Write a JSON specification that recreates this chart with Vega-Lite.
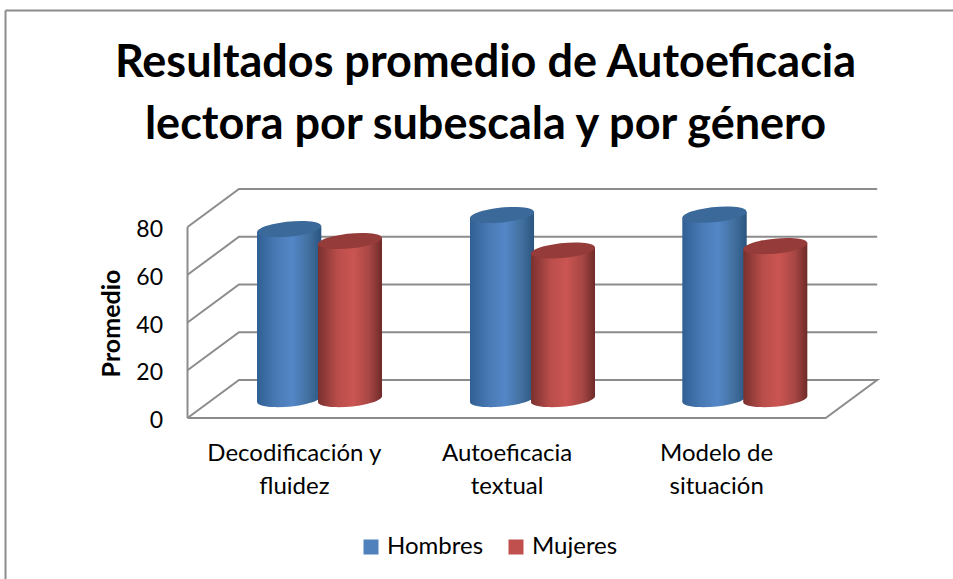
{
"$schema":"https://vega.github.io/schema/vega-lite/v6.json",
"width":953,"height":579,"padding":0,"autosize":{"type":"none"},"background":"white",
"config":{"view":{"stroke":null},"font":"Lato"},
"title":{"text":["Resultados promedio de Autoeficacia","lectora por subescala y por género"],"font":"Lato","fontSize":45,"fontWeight":"bold","color":"#000000","anchor":"middle","baseline":"alphabetic","offset":-184,"dx":9,"lineHeight":62},
"datasets":{
"frame":[
{"s":"top","i":0,"x":-0.8555,"y":170.68},{"s":"top","i":1,"x":3.5984,"y":170.68},
{"s":"left","i":0,"x":-0.8555,"y":170.68},{"s":"left","i":1,"x":-0.8555,"y":-67.4},
{"s":"wall","i":0,"x":0,"y":0},{"s":"wall","i":1,"x":0,"y":80},
{"s":"g0","i":0,"x":0,"y":0},{"s":"g0","i":1,"x":0.242,"y":15.92},{"s":"g0","i":2,"x":3.242,"y":15.92},{"s":"g0","i":3,"x":3,"y":0},{"s":"g0","i":4,"x":0,"y":0},
{"s":"g20","i":0,"x":0,"y":20},{"s":"g20","i":1,"x":0.242,"y":35.92},{"s":"g20","i":2,"x":3.242,"y":35.92},
{"s":"g40","i":0,"x":0,"y":40},{"s":"g40","i":1,"x":0.242,"y":55.92},{"s":"g40","i":2,"x":3.242,"y":55.92},
{"s":"g60","i":0,"x":0,"y":60},{"s":"g60","i":1,"x":0.242,"y":75.92},{"s":"g60","i":2,"x":3.242,"y":75.92},
{"s":"g80","i":0,"x":0,"y":80},{"s":"g80","i":1,"x":0.242,"y":95.92},{"s":"g80","i":2,"x":3.242,"y":95.92}
],
"cyl":[
{"subescala":"Decodificación y fluidez","Género":"Hombres","cx":0.4778,"top":79.16,"base":7.96},
{"subescala":"Decodificación y fluidez","Género":"Mujeres","cx":0.7639,"top":74.14,"base":7.96},
{"subescala":"Autoeficacia textual","Género":"Hombres","cx":1.4785,"top":85.03,"base":7.96},
{"subescala":"Autoeficacia textual","Género":"Mujeres","cx":1.765,"top":70.16,"base":7.96},
{"subescala":"Modelo de situación","Género":"Hombres","cx":2.4773,"top":85.2,"base":7.96},
{"subescala":"Modelo de situación","Género":"Mujeres","cx":2.763,"top":72.04,"base":7.96}
],
"sides":[
{"id":"a","Género":"Hombres","x":0.3267,"top":77.91,"base":6.71},{"id":"a","Género":"Hombres","x":0.629,"top":80.41,"base":9.21},
{"id":"b","Género":"Mujeres","x":0.6134,"top":72.89,"base":6.71},{"id":"b","Género":"Mujeres","x":0.9143,"top":75.39,"base":9.21},
{"id":"c","Género":"Hombres","x":1.328,"top":83.78,"base":6.71},{"id":"c","Género":"Hombres","x":1.629,"top":86.28,"base":9.21},
{"id":"d","Género":"Mujeres","x":1.6147,"top":68.91,"base":6.71},{"id":"d","Género":"Mujeres","x":1.9156,"top":71.41,"base":9.21},
{"id":"e","Género":"Hombres","x":2.326,"top":83.95,"base":6.71},{"id":"e","Género":"Hombres","x":2.6287,"top":86.45,"base":9.21},
{"id":"f","Género":"Mujeres","x":2.6127,"top":70.79,"base":6.71},{"id":"f","Género":"Mujeres","x":2.9136,"top":73.29,"base":9.21}
]
},
"layer":[
{"data":{"name":"frame"},"mark":{"type":"line","color":"#8c8c8c","strokeWidth":2,"strokeJoin":"miter"},
 "encoding":{"x":{"field":"x","type":"quantitative","scale":{"domain":[-0.8814,3.5984],"nice":false,"zero":false},
   "axis":{"orient":"bottom","offset":-161,"values":[0.5,1.5,2.485],"domain":false,"ticks":false,"grid":false,"title":null,"labelFontSize":24,"labelColor":"#000000","labelPadding":23,"labelLineHeight":33,"labelFont":"Lato","labelOverlap":false,"labelFlush":false,"labelExpr":"datum.value<1?['Decodificación y','fluidez']:datum.value<2?['Autoeficacia','textual']:['Modelo de','situación']"}},
  "y":{"field":"y","type":"quantitative","scale":{"domain":[-67.4,175.08],"nice":false,"zero":false},
   "axis":{"orient":"left","offset":-187.5,"values":[0,20,40,60,80],"domain":false,"ticks":false,"grid":false,"labelFontSize":23,"labelColor":"#000000","labelPadding":25,"labelOffset":2.5,"labelFont":"Lato","title":"Promedio","titleFont":"Lato","titleFontSize":25,"titleFontWeight":"bold","titleColor":"#000000","titleX":-63,"titleY":323}},
  "detail":{"field":"s"},"order":{"field":"i","type":"quantitative"}}},
{"data":{"name":"cyl"},"mark":{"type":"point","filled":true,"opacity":1,"size":100},
 "encoding":{"x":{"field":"cx","type":"quantitative"},"y":{"field":"base","type":"quantitative"},
  "color":{"field":"Género","type":"nominal","scale":{"domain":["Hombres","Mujeres"],"range":["#4f81bd","#c0504d"]},
   "legend":{"orient":"none","legendX":359,"legendY":535,"direction":"horizontal","columns":2,"title":null,"symbolType":"square","symbolSize":225,"symbolOpacity":1,"labelFontSize":24,"labelFont":"Lato","labelColor":"#000000","labelOffset":4,"columnPadding":20}}}},
{"data":{"name":"cyl"},"transform":[{"filter":"datum['Género']=='Hombres'"}],"mark":{"type":"point","filled":true,"opacity":1,"size":4096,"shape":"M-1,0.099A1.005,0.23,-5.65,1,1,1,-0.099A1.005,0.23,-5.65,1,1,-1,0.099Z","fill":{"gradient":"linear","x1":0,"y1":0,"x2":1,"y2":0,"stops":[{"offset":0,"color":"#2f5f93"},{"offset":0.3,"color":"#4a7ab5"},{"offset":0.55,"color":"#5487c8"},{"offset":0.8,"color":"#42709f"},{"offset":1,"color":"#2b5580"}]}},
 "encoding":{"x":{"field":"cx","type":"quantitative"},"y":{"field":"base","type":"quantitative"}}},
{"data":{"name":"sides"},"transform":[{"filter":"datum['Género']=='Hombres'"}],"mark":{"type":"area","orient":"vertical","opacity":1,"fill":{"gradient":"linear","x1":0,"y1":0,"x2":1,"y2":0,"stops":[{"offset":0,"color":"#2f5f93"},{"offset":0.3,"color":"#4a7ab5"},{"offset":0.55,"color":"#5487c8"},{"offset":0.8,"color":"#42709f"},{"offset":1,"color":"#2b5580"}]}},
 "encoding":{"x":{"field":"x","type":"quantitative"},"y":{"field":"top","type":"quantitative"},"y2":{"field":"base"},"detail":{"field":"id"}}},
{"data":{"name":"cyl"},"transform":[{"filter":"datum['Género']=='Hombres'"}],"mark":{"type":"point","filled":true,"opacity":1,"size":4096,"shape":"M-1,0.099A1.005,0.23,-5.65,1,1,1,-0.099A1.005,0.23,-5.65,1,1,-1,0.099Z","fill":"#3b6a9a"},
 "encoding":{"x":{"field":"cx","type":"quantitative"},"y":{"field":"top","type":"quantitative"}}},
{"data":{"name":"cyl"},"transform":[{"filter":"datum['Género']=='Mujeres'"}],"mark":{"type":"point","filled":true,"opacity":1,"size":4096,"shape":"M-1,0.099A1.005,0.23,-5.65,1,1,1,-0.099A1.005,0.23,-5.65,1,1,-1,0.099Z","fill":{"gradient":"linear","x1":0,"y1":0,"x2":1,"y2":0,"stops":[{"offset":0,"color":"#7a302e"},{"offset":0.3,"color":"#b84d4a"},{"offset":0.55,"color":"#cb5552"},{"offset":0.8,"color":"#a84745"},{"offset":1,"color":"#6e2a28"}]}},
 "encoding":{"x":{"field":"cx","type":"quantitative"},"y":{"field":"base","type":"quantitative"}}},
{"data":{"name":"sides"},"transform":[{"filter":"datum['Género']=='Mujeres'"}],"mark":{"type":"area","orient":"vertical","opacity":1,"fill":{"gradient":"linear","x1":0,"y1":0,"x2":1,"y2":0,"stops":[{"offset":0,"color":"#7a302e"},{"offset":0.3,"color":"#b84d4a"},{"offset":0.55,"color":"#cb5552"},{"offset":0.8,"color":"#a84745"},{"offset":1,"color":"#6e2a28"}]}},
 "encoding":{"x":{"field":"x","type":"quantitative"},"y":{"field":"top","type":"quantitative"},"y2":{"field":"base"},"detail":{"field":"id"}}},
{"data":{"name":"cyl"},"transform":[{"filter":"datum['Género']=='Mujeres'"}],"mark":{"type":"point","filled":true,"opacity":1,"size":4096,"shape":"M-1,0.099A1.005,0.23,-5.65,1,1,1,-0.099A1.005,0.23,-5.65,1,1,-1,0.099Z","fill":"#953b39"},
 "encoding":{"x":{"field":"cx","type":"quantitative"},"y":{"field":"top","type":"quantitative"}}}
]
}
